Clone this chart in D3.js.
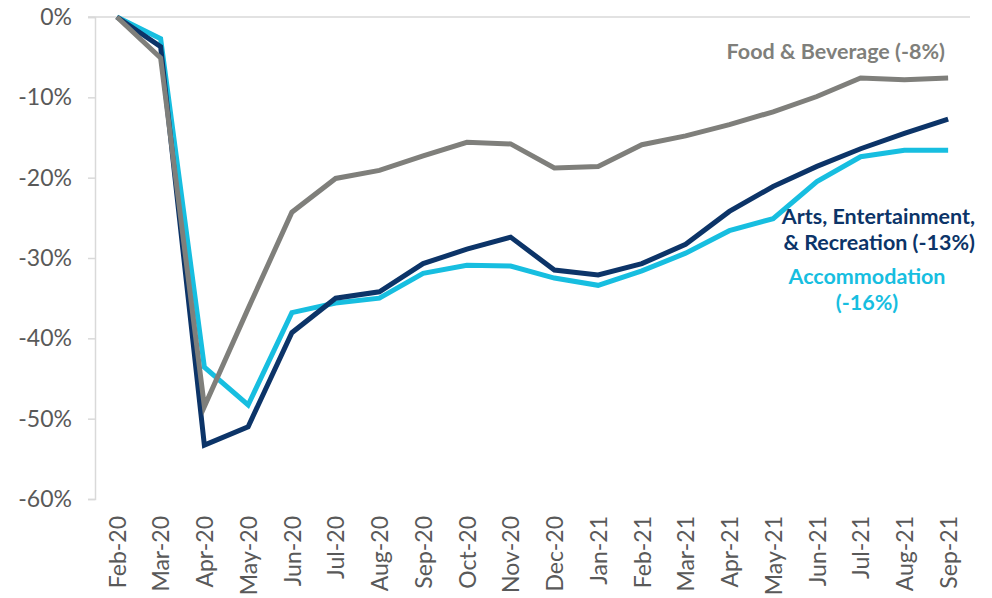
<!DOCTYPE html>
<html>
<head>
<meta charset="utf-8">
<script src="https://cdn.jsdelivr.net/npm/d3@7"></script>
<style>
  body { margin: 0; background: #fff; }
  svg { font-family: Lato, "Open Sans", sans-serif; }
</style>
</head>
<body>
<div id="chart"></div>
<script>
// mesi sull'asse x
const months = ["Feb-20","Mar-20","Apr-20","May-20","Jun-20","Jul-20","Aug-20","Sep-20","Oct-20","Nov-20",
  "Dec-20","Jan-21","Feb-21","Mar-21","Apr-21","May-21","Jun-21","Jul-21","Aug-21","Sep-21"];

const yTicks = [0, -10, -20, -30, -40, -50, -60];

// valori in % rispetto a Feb-20
const foodBev = [0, -5.1, -48.5, -36.3, -24.3, -20.1, -19.1, -17.3, -15.6, -15.8,
  -18.8, -18.6, -15.9, -14.8, -13.4, -11.8, -9.9, -7.6, -7.8, -7.6];
const arts = [0, -3.7, -53.3, -51.0, -39.3, -35.0, -34.2, -30.7, -28.9, -27.4,
  -31.5, -32.1, -30.7, -28.3, -24.2, -21.1, -18.6, -16.4, -14.5, -12.7];
const accommodation = [0, -2.7, -43.6, -48.3, -36.8, -35.6, -35.0, -31.9, -30.9, -31.0,
  -32.5, -33.4, -31.6, -29.4, -26.6, -25.1, -20.5, -17.4, -16.6, -16.6];

const series = [
  {name: "accommodation", values: accommodation, color: "#17BEE0"},
  {name: "arts", values: arts, color: "#0C3468"},
  {name: "food", values: foodBev, color: "#7F7F7B"}
];

const width = 992, height = 598;
const margin = {top: 17, right: 22, bottom: 99, left: 95};

const svg = d3.select("#chart")
  .append("svg")
  .attr("width", width)
  .attr("height", height);

const x = d3.scalePoint()
  .domain(months)
  .range([margin.left, width - margin.right])
  .padding(0.5);

const y = d3.scaleLinear()
  .domain([-60, 0])
  .range([height - margin.bottom, margin.top]);

// linea dello zero (in alto)
svg.append("line")
  .attr("x1", margin.left - 7)
  .attr("x2", width - margin.right)
  .attr("y1", y(0))
  .attr("y2", y(0))
  .attr("stroke", "#d9d9d9")
  .attr("stroke-width", 1.5);

// asse y
const yAxis = svg.append("g")
  .attr("transform", `translate(${margin.left}, 0)`)
  .call(d3.axisLeft(y).tickValues(yTicks).tickSize(7).tickPadding(16).tickFormat(d => d + "%"));

yAxis.select(".domain").attr("stroke", "#d9d9d9").attr("stroke-width", 1.5);
yAxis.selectAll(".tick line").attr("stroke", "#d9d9d9").attr("stroke-width", 1.5);
yAxis.selectAll(".tick text")
  .attr("fill", "#595959")
  .style("font-size", "23px")
  .style("font-family", "Lato");

// etichette asse x (ruotate)
const xAxis = svg.append("g")
  .attr("transform", `translate(0, ${height - margin.bottom})`)
  .call(d3.axisBottom(x).tickSize(0));

xAxis.select(".domain").remove();
xAxis.selectAll(".tick text")
  .attr("fill", "#595959")
  .style("font-size", "23px")
  .style("font-family", "Lato")
  .attr("text-anchor", "end")
  .attr("transform", "rotate(-90)")
  .attr("x", -17)
  .attr("y", 0)
  .attr("dy", "0.36em");

// linee
const line = d3.line()
  .x((d, i) => x(months[i]))
  .y(d => y(d));

svg.append("g")
  .selectAll("path")
  .data(series)
  .join("path")
  .attr("d", d => line(d.values))
  .attr("fill", "none")
  .attr("stroke", d => d.color)
  .attr("stroke-width", 5)
  .attr("stroke-linejoin", "miter");

// etichette delle serie
function label(lines, xPos, yPos, anchor, color){
  const t = svg.append("text")
    .attr("x", xPos)
    .attr("y", yPos)
    .attr("text-anchor", anchor)
    .attr("fill", color)
    .style("font-size", "21.5px")
    .style("font-weight", "bold")
    .style("font-family", "Lato");
  lines.forEach((l, i) => {
    t.append("tspan")
      .attr("x", xPos)
      .attr("dy", i == 0 ? 0 : 26)
      .text(l);
  });
}

label(["Food & Beverage (-8%)"], 945, 59, "end", "#7F7F7B");
label(["Arts, Entertainment,", "& Recreation (-13%)"], 975, 224, "end", "#0C3468");
label(["Accommodation", "(-16%)"], 867, 284, "middle", "#17BEE0");
</script>
</body>
</html>
